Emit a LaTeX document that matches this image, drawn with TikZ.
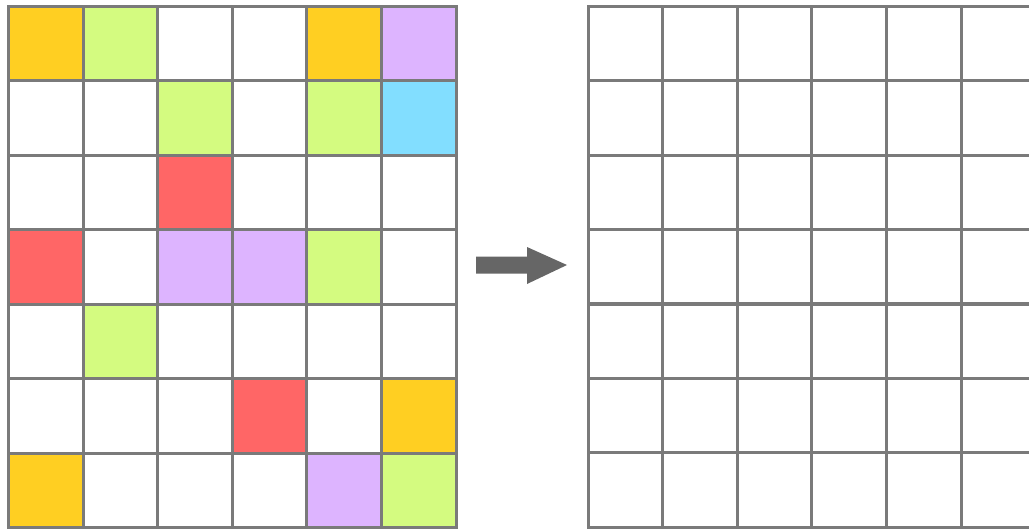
\documentclass[tikz,border=0pt]{standalone}
\definecolor{gline}{HTML}{7A7A7A}
\definecolor{garrow}{HTML}{666666}
\definecolor{cO}{HTML}{FFCF22}
\definecolor{cG}{HTML}{D4FB80}
\definecolor{cP}{HTML}{DDB4FF}
\definecolor{cB}{HTML}{82DEFF}
\definecolor{cR}{HTML}{FF6666}
\tikzset{
  cell/.style={draw=gline, line width=3pt, minimum width=74.6pt, minimum height=74.4pt, inner sep=0pt, outer sep=0pt, anchor=north west},
}
\begin{document}
\begin{tikzpicture}[x=1pt,y=-1pt]
\useasboundingbox (0,0) rectangle (1029,530);
\clip (0,0) rectangle (1029,530);
\fill[white] (0,0) rectangle (1029,530);
% colour map for the left grid
\def\cellcolor#1#2{white}
\foreach \r/\c/\col in {0/0/cO,0/1/cG,0/4/cO,0/5/cP,1/2/cG,1/4/cG,1/5/cB,2/2/cR,3/0/cR,3/2/cP,3/3/cP,3/4/cG,4/1/cG,5/3/cR,5/5/cO,6/0/cO,6/4/cP,6/5/cG}{
  \expandafter\xdef\csname col-\r-\c\endcsname{\col}
}
\foreach \r in {0,...,6}{
  \foreach \c in {0,...,5}{
    \ifcsname col-\r-\c\endcsname
      \node[cell, fill=\csname col-\r-\c\endcsname] (L\r\c) at ({8.5+74.6*\c},{6.5+74.43*\r}) {};
    \else
      \node[cell, fill=white] (L\r\c) at ({8.5+74.6*\c},{6.5+74.43*\r}) {};
    \fi
    \node[cell] (R\r\c) at ({588+74.6*\c},{6.3+74.43*\r}) {};
  }
}
\fill[garrow] (476,256.5) -- (527,256.5) -- (527,247) -- (567,265) -- (527,284) -- (527,273.5) -- (476,273.5) -- cycle;
\end{tikzpicture}
\end{document}
